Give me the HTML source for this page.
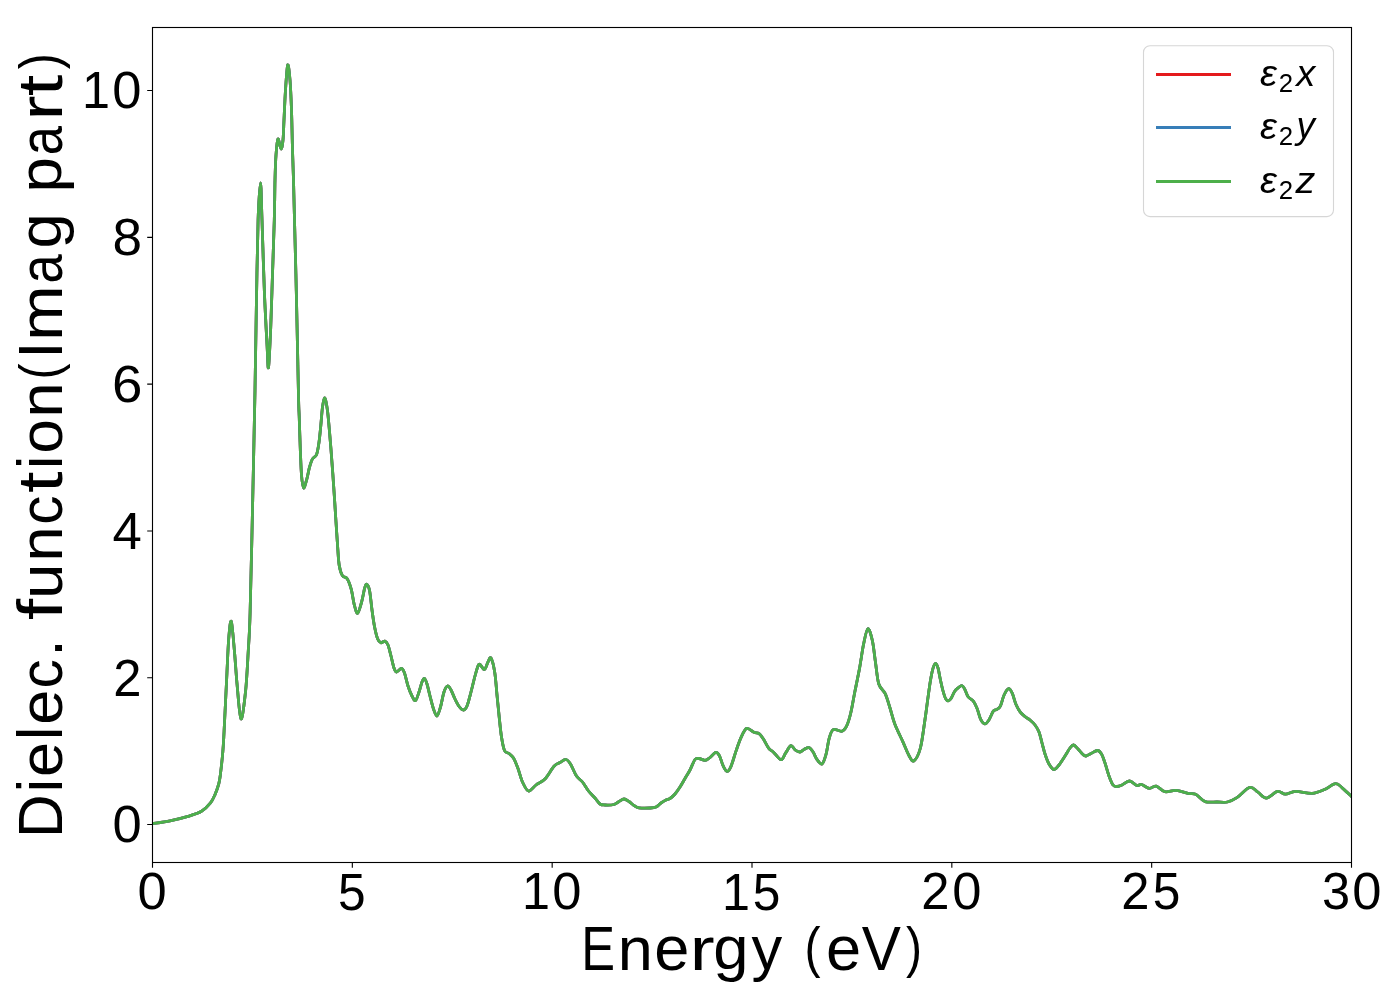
<!DOCTYPE html>
<html><head><meta charset="utf-8"><title>Dielectric function</title>
<style>
html,body{margin:0;padding:0;background:#fff;}
body{width:1400px;height:1000px;overflow:hidden;font-family:"Liberation Sans",sans-serif;}
svg{display:block;}
</style></head><body>
<svg width="1400" height="1000" viewBox="0 0 1400 1000">
<rect width="1400" height="1000" fill="#fff"/>
<defs><clipPath id="ax"><rect x="152.5" y="27.5" width="1199.0" height="835.0"/></clipPath></defs>
<g clip-path="url(#ax)" fill="none" stroke-width="2.7778" stroke-linejoin="round" stroke-linecap="square">
<path d="M152.50,823.60 C155.42,823.13 164.08,822.00 170.00,820.80 C175.92,819.60 182.75,817.98 188.00,816.40 C193.25,814.82 197.75,813.55 201.50,811.30 C205.25,809.05 208.25,805.68 210.50,802.90 C212.75,800.12 213.65,797.67 215.00,794.60 C216.35,791.53 217.73,787.60 218.60,784.50 C219.47,781.40 219.50,781.42 220.20,776.00 C220.90,770.58 222.15,759.50 222.80,752.00 C223.45,744.50 223.45,743.33 224.10,731.00 C224.75,718.67 225.93,693.33 226.70,678.00 C227.47,662.67 227.93,648.42 228.70,639.00 C229.47,629.58 230.33,619.33 231.30,621.50 C232.27,623.67 233.53,641.48 234.50,652.00 C235.47,662.52 236.02,673.43 237.10,684.60 C238.18,695.77 239.58,717.93 241.00,719.00 C242.42,720.07 244.40,702.17 245.60,691.00 C246.80,679.83 247.45,665.00 248.20,652.00 C248.95,639.00 249.37,637.50 250.10,613.00 C250.83,588.50 251.78,542.17 252.60,505.00 C253.42,467.83 254.38,422.50 255.00,390.00 C255.62,357.50 255.78,338.33 256.30,310.00 C256.82,281.67 257.40,241.17 258.10,220.00 C258.80,198.83 259.85,183.00 260.50,183.00 C261.15,183.00 261.35,201.83 262.00,220.00 C262.65,238.17 263.55,271.00 264.40,292.00 C265.25,313.00 266.42,333.42 267.10,346.00 C267.78,358.58 267.90,370.50 268.50,367.50 C269.10,364.50 270.03,343.58 270.70,328.00 C271.37,312.42 271.90,292.00 272.50,274.00 C273.10,256.00 273.88,235.67 274.30,220.00 C274.72,204.33 274.72,190.83 275.00,180.00 C275.28,169.17 275.50,161.83 276.00,155.00 C276.50,148.17 277.17,140.00 278.00,139.00 C278.83,138.00 280.17,148.83 281.00,149.00 C281.83,149.17 282.50,144.83 283.00,140.00 C283.50,135.17 283.58,128.33 284.00,120.00 C284.42,111.67 284.88,99.17 285.50,90.00 C286.12,80.83 286.95,66.67 287.70,65.00 C288.45,63.33 289.37,72.50 290.00,80.00 C290.63,87.50 291.08,98.33 291.50,110.00 C291.92,121.67 292.17,138.33 292.50,150.00 C292.83,161.67 293.17,168.33 293.50,180.00 C293.83,191.67 294.10,204.33 294.50,220.00 C294.90,235.67 295.47,256.00 295.90,274.00 C296.33,292.00 296.65,307.00 297.10,328.00 C297.55,349.00 298.25,385.33 298.60,400.00 C298.95,414.67 298.90,407.33 299.20,416.00 C299.50,424.67 300.00,442.00 300.40,452.00 C300.80,462.00 301.07,470.00 301.60,476.00 C302.13,482.00 302.70,487.60 303.60,488.00 C304.50,488.40 306.03,481.80 307.00,478.40 C307.97,475.00 308.50,470.80 309.40,467.60 C310.30,464.40 311.20,461.40 312.40,459.20 C313.60,457.00 315.50,457.20 316.60,454.40 C317.70,451.60 318.30,447.20 319.00,442.40 C319.70,437.60 320.20,431.60 320.80,425.60 C321.40,419.60 321.90,411.00 322.60,406.40 C323.30,401.80 324.20,397.40 325.00,398.00 C325.80,398.60 326.70,405.00 327.40,410.00 C328.10,415.00 328.60,421.40 329.20,428.00 C329.80,434.60 330.40,442.00 331.00,449.60 C331.60,457.20 332.20,465.20 332.80,473.60 C333.40,482.00 334.07,491.93 334.60,500.00 C335.13,508.07 335.50,514.33 336.00,522.00 C336.50,529.67 337.07,538.80 337.60,546.00 C338.13,553.20 338.40,560.27 339.20,565.20 C340.00,570.13 341.07,573.33 342.40,575.60 C343.73,577.87 345.73,576.53 347.20,578.80 C348.67,581.07 350.00,584.80 351.20,589.20 C352.40,593.60 353.33,601.20 354.40,605.20 C355.47,609.20 356.40,613.73 357.60,613.20 C358.80,612.67 360.40,606.27 361.60,602.00 C362.80,597.73 363.92,590.53 364.80,587.60 C365.68,584.67 366.10,583.87 366.90,584.40 C367.70,584.93 368.75,586.53 369.60,590.80 C370.45,595.07 371.20,604.13 372.00,610.00 C372.80,615.87 373.47,621.20 374.40,626.00 C375.33,630.80 376.53,636.00 377.60,638.80 C378.67,641.60 379.60,642.40 380.80,642.80 C382.00,643.20 383.60,640.83 384.80,641.20 C386.00,641.57 386.97,642.53 388.00,645.00 C389.03,647.47 390.00,652.17 391.00,656.00 C392.00,659.83 393.08,665.33 394.00,668.00 C394.92,670.67 395.25,671.92 396.50,672.00 C397.75,672.08 400.17,668.33 401.50,668.50 C402.83,668.67 403.42,670.08 404.50,673.00 C405.58,675.92 406.75,682.17 408.00,686.00 C409.25,689.83 410.75,693.58 412.00,696.00 C413.25,698.42 414.33,701.17 415.50,700.50 C416.67,699.83 417.92,695.08 419.00,692.00 C420.08,688.92 421.08,684.25 422.00,682.00 C422.92,679.75 423.67,678.17 424.50,678.50 C425.33,678.83 426.08,681.08 427.00,684.00 C427.92,686.92 428.92,691.83 430.00,696.00 C431.08,700.17 432.33,705.67 433.50,709.00 C434.67,712.33 435.83,716.33 437.00,716.00 C438.17,715.67 439.33,711.00 440.50,707.00 C441.67,703.00 442.83,695.50 444.00,692.00 C445.17,688.50 446.33,686.33 447.50,686.00 C448.67,685.67 449.75,687.83 451.00,690.00 C452.25,692.17 453.58,696.17 455.00,699.00 C456.42,701.83 458.08,705.17 459.50,707.00 C460.92,708.83 462.25,710.17 463.50,710.00 C464.75,709.83 465.75,709.00 467.00,706.00 C468.25,703.00 469.67,697.00 471.00,692.00 C472.33,687.00 473.83,680.33 475.00,676.00 C476.17,671.67 477.17,667.92 478.00,666.00 C478.83,664.08 478.92,663.92 480.00,664.50 C481.08,665.08 483.17,669.92 484.50,669.50 C485.83,669.08 486.92,663.92 488.00,662.00 C489.08,660.08 489.88,656.25 491.00,658.00 C492.12,659.75 493.75,666.33 494.75,672.50 C495.75,678.67 496.25,687.50 497.00,695.00 C497.75,702.50 498.50,710.50 499.25,717.50 C500.00,724.50 500.62,731.50 501.50,737.00 C502.38,742.50 503.25,747.75 504.50,750.50 C505.75,753.25 507.50,752.25 509.00,753.50 C510.50,754.75 512.00,755.50 513.50,758.00 C515.00,760.50 516.50,764.50 518.00,768.50 C519.50,772.50 520.75,778.25 522.50,782.00 C524.25,785.75 526.25,790.50 528.50,791.00 C530.75,791.50 533.25,787.00 536.00,785.00 C538.75,783.00 542.00,782.12 545.00,779.00 C548.00,775.88 551.50,769.00 554.00,766.25 C556.50,763.50 558.00,763.62 560.00,762.50 C562.00,761.38 564.25,759.25 566.00,759.50 C567.75,759.75 568.75,761.25 570.50,764.00 C572.25,766.75 574.50,773.00 576.50,776.00 C578.50,779.00 580.50,779.50 582.50,782.00 C584.50,784.50 586.42,788.33 588.50,791.00 C590.58,793.67 593.08,795.83 595.00,798.00 C596.92,800.17 598.33,802.83 600.00,804.00 C601.67,805.17 602.67,804.92 605.00,805.00 C607.33,805.08 611.67,805.08 614.00,804.50 C616.33,803.92 617.33,802.42 619.00,801.50 C620.67,800.58 622.33,799.00 624.00,799.00 C625.67,799.00 627.33,800.42 629.00,801.50 C630.67,802.58 632.33,804.45 634.00,805.50 C635.67,806.55 636.33,807.38 639.00,807.80 C641.67,808.22 647.17,808.13 650.00,808.00 C652.83,807.87 654.17,807.83 656.00,807.00 C657.83,806.17 659.33,804.17 661.00,803.00 C662.67,801.83 664.50,800.75 666.00,800.00 C667.50,799.25 668.50,799.50 670.00,798.50 C671.50,797.50 673.33,795.92 675.00,794.00 C676.67,792.08 678.33,789.58 680.00,787.00 C681.67,784.42 683.33,781.33 685.00,778.50 C686.67,775.67 688.33,773.17 690.00,770.00 C691.67,766.83 693.50,761.42 695.00,759.50 C696.50,757.58 697.33,758.37 699.00,758.50 C700.67,758.63 703.27,760.38 705.00,760.30 C706.73,760.22 707.58,759.32 709.40,758.00 C711.22,756.68 714.18,752.68 715.90,752.40 C717.62,752.12 718.50,754.08 719.70,756.30 C720.90,758.52 721.88,763.20 723.10,765.70 C724.32,768.20 725.70,771.15 727.00,771.30 C728.30,771.45 729.40,769.97 730.90,766.60 C732.40,763.23 734.30,755.97 736.00,751.10 C737.70,746.23 739.32,741.18 741.10,737.40 C742.88,733.62 744.55,729.25 746.70,728.40 C748.85,727.55 751.93,731.43 754.00,732.30 C756.07,733.17 757.53,732.47 759.10,733.60 C760.67,734.73 761.82,736.68 763.40,739.10 C764.98,741.52 766.88,745.88 768.60,748.10 C770.32,750.32 771.63,750.47 773.70,752.40 C775.77,754.33 779.00,759.62 781.00,759.70 C783.00,759.78 784.05,755.25 785.70,752.90 C787.35,750.55 789.33,746.10 790.90,745.60 C792.47,745.10 793.60,748.83 795.10,749.90 C796.60,750.97 798.40,752.08 799.90,752.00 C801.40,751.92 802.60,750.12 804.10,749.40 C805.60,748.68 807.40,747.27 808.90,747.70 C810.40,748.13 811.82,750.13 813.10,752.00 C814.38,753.87 815.12,756.90 816.60,758.90 C818.08,760.90 820.43,764.75 822.00,764.00 C823.57,763.25 824.80,758.67 826.00,754.40 C827.20,750.13 828.00,742.53 829.20,738.40 C830.40,734.27 831.07,730.80 833.20,729.60 C835.33,728.40 839.73,731.87 842.00,731.20 C844.27,730.53 845.33,728.67 846.80,725.60 C848.27,722.53 849.47,718.40 850.80,712.80 C852.13,707.20 853.33,699.47 854.80,692.00 C856.27,684.53 858.13,676.00 859.60,668.00 C861.07,660.00 862.22,650.53 863.60,644.00 C864.98,637.47 866.43,629.33 867.90,628.80 C869.37,628.27 871.12,635.07 872.40,640.80 C873.68,646.53 874.53,656.00 875.60,663.20 C876.67,670.40 877.20,678.93 878.80,684.00 C880.40,689.07 883.33,689.60 885.20,693.60 C887.07,697.60 888.40,702.93 890.00,708.00 C891.60,713.07 892.67,718.40 894.80,724.00 C896.93,729.60 900.40,736.27 902.80,741.60 C905.20,746.93 907.33,752.80 909.20,756.00 C911.07,759.20 912.13,762.13 914.00,760.80 C915.87,759.47 918.58,754.77 920.40,748.00 C922.22,741.23 923.70,728.13 924.90,720.20 C926.10,712.27 926.70,706.85 927.60,700.40 C928.50,693.95 929.47,686.60 930.30,681.50 C931.13,676.40 931.77,672.80 932.60,669.80 C933.43,666.80 934.40,663.80 935.30,663.50 C936.20,663.20 937.18,665.45 938.00,668.00 C938.82,670.55 939.38,675.05 940.20,678.80 C941.02,682.55 942.00,687.20 942.90,690.50 C943.80,693.80 944.70,696.87 945.60,698.60 C946.50,700.33 947.40,700.90 948.30,700.90 C949.20,700.90 949.95,700.18 951.00,698.60 C952.05,697.02 953.40,693.20 954.60,691.40 C955.80,689.60 957.00,688.77 958.20,687.80 C959.40,686.83 960.75,685.45 961.80,685.60 C962.85,685.75 963.45,686.83 964.50,688.70 C965.55,690.57 966.60,694.70 968.10,696.80 C969.60,698.90 972.00,699.35 973.50,701.30 C975.00,703.25 975.90,705.50 977.10,708.50 C978.30,711.50 979.42,716.75 980.70,719.30 C981.98,721.85 983.45,723.65 984.80,723.80 C986.15,723.95 987.38,722.30 988.80,720.20 C990.22,718.10 991.95,713.00 993.30,711.20 C994.65,709.40 995.70,710.30 996.90,709.40 C998.10,708.50 999.30,708.20 1000.50,705.80 C1001.70,703.40 1002.75,697.85 1004.10,695.00 C1005.45,692.15 1007.25,689.00 1008.60,688.70 C1009.95,688.40 1011.00,690.65 1012.20,693.20 C1013.40,695.75 1014.45,700.85 1015.80,704.00 C1017.15,707.15 1018.68,709.93 1020.30,712.10 C1021.92,714.27 1023.88,715.68 1025.50,717.00 C1027.12,718.32 1028.42,718.67 1030.00,720.00 C1031.58,721.33 1033.50,723.00 1035.00,725.00 C1036.50,727.00 1037.83,729.00 1039.00,732.00 C1040.17,735.00 1041.00,739.33 1042.00,743.00 C1043.00,746.67 1043.83,750.50 1045.00,754.00 C1046.17,757.50 1047.50,761.42 1049.00,764.00 C1050.50,766.58 1052.33,769.33 1054.00,769.50 C1055.67,769.67 1057.17,767.25 1059.00,765.00 C1060.83,762.75 1063.17,758.83 1065.00,756.00 C1066.83,753.17 1068.58,749.83 1070.00,748.00 C1071.42,746.17 1072.17,744.83 1073.50,745.00 C1074.83,745.17 1076.42,747.42 1078.00,749.00 C1079.58,750.58 1081.67,753.33 1083.00,754.50 C1084.33,755.67 1084.67,756.17 1086.00,756.00 C1087.33,755.83 1089.08,754.42 1091.00,753.50 C1092.92,752.58 1095.75,750.42 1097.50,750.50 C1099.25,750.58 1100.25,751.92 1101.50,754.00 C1102.75,756.08 1103.75,759.33 1105.00,763.00 C1106.25,766.67 1107.67,772.33 1109.00,776.00 C1110.33,779.67 1111.67,783.25 1113.00,785.00 C1114.33,786.75 1115.50,786.50 1117.00,786.50 C1118.50,786.50 1119.92,785.92 1122.00,785.00 C1124.08,784.08 1127.00,780.92 1129.50,781.00 C1132.00,781.08 1135.00,784.92 1137.00,785.50 C1139.00,786.08 1139.43,784.03 1141.50,784.50 C1143.57,784.97 1146.93,788.03 1149.40,788.30 C1151.87,788.57 1153.72,785.53 1156.30,786.10 C1158.88,786.67 1161.62,790.98 1164.90,791.70 C1168.18,792.42 1172.15,790.12 1176.00,790.40 C1179.85,790.68 1184.72,792.75 1188.00,793.40 C1191.28,794.05 1192.85,792.93 1195.70,794.30 C1198.55,795.67 1201.53,800.32 1205.10,801.60 C1208.67,802.88 1213.38,801.93 1217.10,802.00 C1220.82,802.07 1224.10,802.72 1227.40,802.00 C1230.70,801.28 1233.18,800.13 1236.90,797.70 C1240.62,795.27 1246.20,788.32 1249.70,787.40 C1253.20,786.48 1255.10,790.42 1257.90,792.20 C1260.70,793.98 1263.23,798.23 1266.50,798.10 C1269.77,797.97 1274.35,792.05 1277.50,791.40 C1280.65,790.75 1282.38,794.20 1285.40,794.20 C1288.42,794.20 1291.15,791.53 1295.60,791.40 C1300.05,791.27 1307.27,793.72 1312.10,793.40 C1316.93,793.08 1320.68,791.13 1324.60,789.50 C1328.52,787.87 1332.58,783.80 1335.60,783.60 C1338.62,783.40 1340.05,786.15 1342.70,788.30 C1345.35,790.45 1350.03,795.13 1351.50,796.50" stroke="#e41a1c"/>
<path d="M152.50,823.60 C155.42,823.13 164.08,822.00 170.00,820.80 C175.92,819.60 182.75,817.98 188.00,816.40 C193.25,814.82 197.75,813.55 201.50,811.30 C205.25,809.05 208.25,805.68 210.50,802.90 C212.75,800.12 213.65,797.67 215.00,794.60 C216.35,791.53 217.73,787.60 218.60,784.50 C219.47,781.40 219.50,781.42 220.20,776.00 C220.90,770.58 222.15,759.50 222.80,752.00 C223.45,744.50 223.45,743.33 224.10,731.00 C224.75,718.67 225.93,693.33 226.70,678.00 C227.47,662.67 227.93,648.42 228.70,639.00 C229.47,629.58 230.33,619.33 231.30,621.50 C232.27,623.67 233.53,641.48 234.50,652.00 C235.47,662.52 236.02,673.43 237.10,684.60 C238.18,695.77 239.58,717.93 241.00,719.00 C242.42,720.07 244.40,702.17 245.60,691.00 C246.80,679.83 247.45,665.00 248.20,652.00 C248.95,639.00 249.37,637.50 250.10,613.00 C250.83,588.50 251.78,542.17 252.60,505.00 C253.42,467.83 254.38,422.50 255.00,390.00 C255.62,357.50 255.78,338.33 256.30,310.00 C256.82,281.67 257.40,241.17 258.10,220.00 C258.80,198.83 259.85,183.00 260.50,183.00 C261.15,183.00 261.35,201.83 262.00,220.00 C262.65,238.17 263.55,271.00 264.40,292.00 C265.25,313.00 266.42,333.42 267.10,346.00 C267.78,358.58 267.90,370.50 268.50,367.50 C269.10,364.50 270.03,343.58 270.70,328.00 C271.37,312.42 271.90,292.00 272.50,274.00 C273.10,256.00 273.88,235.67 274.30,220.00 C274.72,204.33 274.72,190.83 275.00,180.00 C275.28,169.17 275.50,161.83 276.00,155.00 C276.50,148.17 277.17,140.00 278.00,139.00 C278.83,138.00 280.17,148.83 281.00,149.00 C281.83,149.17 282.50,144.83 283.00,140.00 C283.50,135.17 283.58,128.33 284.00,120.00 C284.42,111.67 284.88,99.17 285.50,90.00 C286.12,80.83 286.95,66.67 287.70,65.00 C288.45,63.33 289.37,72.50 290.00,80.00 C290.63,87.50 291.08,98.33 291.50,110.00 C291.92,121.67 292.17,138.33 292.50,150.00 C292.83,161.67 293.17,168.33 293.50,180.00 C293.83,191.67 294.10,204.33 294.50,220.00 C294.90,235.67 295.47,256.00 295.90,274.00 C296.33,292.00 296.65,307.00 297.10,328.00 C297.55,349.00 298.25,385.33 298.60,400.00 C298.95,414.67 298.90,407.33 299.20,416.00 C299.50,424.67 300.00,442.00 300.40,452.00 C300.80,462.00 301.07,470.00 301.60,476.00 C302.13,482.00 302.70,487.60 303.60,488.00 C304.50,488.40 306.03,481.80 307.00,478.40 C307.97,475.00 308.50,470.80 309.40,467.60 C310.30,464.40 311.20,461.40 312.40,459.20 C313.60,457.00 315.50,457.20 316.60,454.40 C317.70,451.60 318.30,447.20 319.00,442.40 C319.70,437.60 320.20,431.60 320.80,425.60 C321.40,419.60 321.90,411.00 322.60,406.40 C323.30,401.80 324.20,397.40 325.00,398.00 C325.80,398.60 326.70,405.00 327.40,410.00 C328.10,415.00 328.60,421.40 329.20,428.00 C329.80,434.60 330.40,442.00 331.00,449.60 C331.60,457.20 332.20,465.20 332.80,473.60 C333.40,482.00 334.07,491.93 334.60,500.00 C335.13,508.07 335.50,514.33 336.00,522.00 C336.50,529.67 337.07,538.80 337.60,546.00 C338.13,553.20 338.40,560.27 339.20,565.20 C340.00,570.13 341.07,573.33 342.40,575.60 C343.73,577.87 345.73,576.53 347.20,578.80 C348.67,581.07 350.00,584.80 351.20,589.20 C352.40,593.60 353.33,601.20 354.40,605.20 C355.47,609.20 356.40,613.73 357.60,613.20 C358.80,612.67 360.40,606.27 361.60,602.00 C362.80,597.73 363.92,590.53 364.80,587.60 C365.68,584.67 366.10,583.87 366.90,584.40 C367.70,584.93 368.75,586.53 369.60,590.80 C370.45,595.07 371.20,604.13 372.00,610.00 C372.80,615.87 373.47,621.20 374.40,626.00 C375.33,630.80 376.53,636.00 377.60,638.80 C378.67,641.60 379.60,642.40 380.80,642.80 C382.00,643.20 383.60,640.83 384.80,641.20 C386.00,641.57 386.97,642.53 388.00,645.00 C389.03,647.47 390.00,652.17 391.00,656.00 C392.00,659.83 393.08,665.33 394.00,668.00 C394.92,670.67 395.25,671.92 396.50,672.00 C397.75,672.08 400.17,668.33 401.50,668.50 C402.83,668.67 403.42,670.08 404.50,673.00 C405.58,675.92 406.75,682.17 408.00,686.00 C409.25,689.83 410.75,693.58 412.00,696.00 C413.25,698.42 414.33,701.17 415.50,700.50 C416.67,699.83 417.92,695.08 419.00,692.00 C420.08,688.92 421.08,684.25 422.00,682.00 C422.92,679.75 423.67,678.17 424.50,678.50 C425.33,678.83 426.08,681.08 427.00,684.00 C427.92,686.92 428.92,691.83 430.00,696.00 C431.08,700.17 432.33,705.67 433.50,709.00 C434.67,712.33 435.83,716.33 437.00,716.00 C438.17,715.67 439.33,711.00 440.50,707.00 C441.67,703.00 442.83,695.50 444.00,692.00 C445.17,688.50 446.33,686.33 447.50,686.00 C448.67,685.67 449.75,687.83 451.00,690.00 C452.25,692.17 453.58,696.17 455.00,699.00 C456.42,701.83 458.08,705.17 459.50,707.00 C460.92,708.83 462.25,710.17 463.50,710.00 C464.75,709.83 465.75,709.00 467.00,706.00 C468.25,703.00 469.67,697.00 471.00,692.00 C472.33,687.00 473.83,680.33 475.00,676.00 C476.17,671.67 477.17,667.92 478.00,666.00 C478.83,664.08 478.92,663.92 480.00,664.50 C481.08,665.08 483.17,669.92 484.50,669.50 C485.83,669.08 486.92,663.92 488.00,662.00 C489.08,660.08 489.88,656.25 491.00,658.00 C492.12,659.75 493.75,666.33 494.75,672.50 C495.75,678.67 496.25,687.50 497.00,695.00 C497.75,702.50 498.50,710.50 499.25,717.50 C500.00,724.50 500.62,731.50 501.50,737.00 C502.38,742.50 503.25,747.75 504.50,750.50 C505.75,753.25 507.50,752.25 509.00,753.50 C510.50,754.75 512.00,755.50 513.50,758.00 C515.00,760.50 516.50,764.50 518.00,768.50 C519.50,772.50 520.75,778.25 522.50,782.00 C524.25,785.75 526.25,790.50 528.50,791.00 C530.75,791.50 533.25,787.00 536.00,785.00 C538.75,783.00 542.00,782.12 545.00,779.00 C548.00,775.88 551.50,769.00 554.00,766.25 C556.50,763.50 558.00,763.62 560.00,762.50 C562.00,761.38 564.25,759.25 566.00,759.50 C567.75,759.75 568.75,761.25 570.50,764.00 C572.25,766.75 574.50,773.00 576.50,776.00 C578.50,779.00 580.50,779.50 582.50,782.00 C584.50,784.50 586.42,788.33 588.50,791.00 C590.58,793.67 593.08,795.83 595.00,798.00 C596.92,800.17 598.33,802.83 600.00,804.00 C601.67,805.17 602.67,804.92 605.00,805.00 C607.33,805.08 611.67,805.08 614.00,804.50 C616.33,803.92 617.33,802.42 619.00,801.50 C620.67,800.58 622.33,799.00 624.00,799.00 C625.67,799.00 627.33,800.42 629.00,801.50 C630.67,802.58 632.33,804.45 634.00,805.50 C635.67,806.55 636.33,807.38 639.00,807.80 C641.67,808.22 647.17,808.13 650.00,808.00 C652.83,807.87 654.17,807.83 656.00,807.00 C657.83,806.17 659.33,804.17 661.00,803.00 C662.67,801.83 664.50,800.75 666.00,800.00 C667.50,799.25 668.50,799.50 670.00,798.50 C671.50,797.50 673.33,795.92 675.00,794.00 C676.67,792.08 678.33,789.58 680.00,787.00 C681.67,784.42 683.33,781.33 685.00,778.50 C686.67,775.67 688.33,773.17 690.00,770.00 C691.67,766.83 693.50,761.42 695.00,759.50 C696.50,757.58 697.33,758.37 699.00,758.50 C700.67,758.63 703.27,760.38 705.00,760.30 C706.73,760.22 707.58,759.32 709.40,758.00 C711.22,756.68 714.18,752.68 715.90,752.40 C717.62,752.12 718.50,754.08 719.70,756.30 C720.90,758.52 721.88,763.20 723.10,765.70 C724.32,768.20 725.70,771.15 727.00,771.30 C728.30,771.45 729.40,769.97 730.90,766.60 C732.40,763.23 734.30,755.97 736.00,751.10 C737.70,746.23 739.32,741.18 741.10,737.40 C742.88,733.62 744.55,729.25 746.70,728.40 C748.85,727.55 751.93,731.43 754.00,732.30 C756.07,733.17 757.53,732.47 759.10,733.60 C760.67,734.73 761.82,736.68 763.40,739.10 C764.98,741.52 766.88,745.88 768.60,748.10 C770.32,750.32 771.63,750.47 773.70,752.40 C775.77,754.33 779.00,759.62 781.00,759.70 C783.00,759.78 784.05,755.25 785.70,752.90 C787.35,750.55 789.33,746.10 790.90,745.60 C792.47,745.10 793.60,748.83 795.10,749.90 C796.60,750.97 798.40,752.08 799.90,752.00 C801.40,751.92 802.60,750.12 804.10,749.40 C805.60,748.68 807.40,747.27 808.90,747.70 C810.40,748.13 811.82,750.13 813.10,752.00 C814.38,753.87 815.12,756.90 816.60,758.90 C818.08,760.90 820.43,764.75 822.00,764.00 C823.57,763.25 824.80,758.67 826.00,754.40 C827.20,750.13 828.00,742.53 829.20,738.40 C830.40,734.27 831.07,730.80 833.20,729.60 C835.33,728.40 839.73,731.87 842.00,731.20 C844.27,730.53 845.33,728.67 846.80,725.60 C848.27,722.53 849.47,718.40 850.80,712.80 C852.13,707.20 853.33,699.47 854.80,692.00 C856.27,684.53 858.13,676.00 859.60,668.00 C861.07,660.00 862.22,650.53 863.60,644.00 C864.98,637.47 866.43,629.33 867.90,628.80 C869.37,628.27 871.12,635.07 872.40,640.80 C873.68,646.53 874.53,656.00 875.60,663.20 C876.67,670.40 877.20,678.93 878.80,684.00 C880.40,689.07 883.33,689.60 885.20,693.60 C887.07,697.60 888.40,702.93 890.00,708.00 C891.60,713.07 892.67,718.40 894.80,724.00 C896.93,729.60 900.40,736.27 902.80,741.60 C905.20,746.93 907.33,752.80 909.20,756.00 C911.07,759.20 912.13,762.13 914.00,760.80 C915.87,759.47 918.58,754.77 920.40,748.00 C922.22,741.23 923.70,728.13 924.90,720.20 C926.10,712.27 926.70,706.85 927.60,700.40 C928.50,693.95 929.47,686.60 930.30,681.50 C931.13,676.40 931.77,672.80 932.60,669.80 C933.43,666.80 934.40,663.80 935.30,663.50 C936.20,663.20 937.18,665.45 938.00,668.00 C938.82,670.55 939.38,675.05 940.20,678.80 C941.02,682.55 942.00,687.20 942.90,690.50 C943.80,693.80 944.70,696.87 945.60,698.60 C946.50,700.33 947.40,700.90 948.30,700.90 C949.20,700.90 949.95,700.18 951.00,698.60 C952.05,697.02 953.40,693.20 954.60,691.40 C955.80,689.60 957.00,688.77 958.20,687.80 C959.40,686.83 960.75,685.45 961.80,685.60 C962.85,685.75 963.45,686.83 964.50,688.70 C965.55,690.57 966.60,694.70 968.10,696.80 C969.60,698.90 972.00,699.35 973.50,701.30 C975.00,703.25 975.90,705.50 977.10,708.50 C978.30,711.50 979.42,716.75 980.70,719.30 C981.98,721.85 983.45,723.65 984.80,723.80 C986.15,723.95 987.38,722.30 988.80,720.20 C990.22,718.10 991.95,713.00 993.30,711.20 C994.65,709.40 995.70,710.30 996.90,709.40 C998.10,708.50 999.30,708.20 1000.50,705.80 C1001.70,703.40 1002.75,697.85 1004.10,695.00 C1005.45,692.15 1007.25,689.00 1008.60,688.70 C1009.95,688.40 1011.00,690.65 1012.20,693.20 C1013.40,695.75 1014.45,700.85 1015.80,704.00 C1017.15,707.15 1018.68,709.93 1020.30,712.10 C1021.92,714.27 1023.88,715.68 1025.50,717.00 C1027.12,718.32 1028.42,718.67 1030.00,720.00 C1031.58,721.33 1033.50,723.00 1035.00,725.00 C1036.50,727.00 1037.83,729.00 1039.00,732.00 C1040.17,735.00 1041.00,739.33 1042.00,743.00 C1043.00,746.67 1043.83,750.50 1045.00,754.00 C1046.17,757.50 1047.50,761.42 1049.00,764.00 C1050.50,766.58 1052.33,769.33 1054.00,769.50 C1055.67,769.67 1057.17,767.25 1059.00,765.00 C1060.83,762.75 1063.17,758.83 1065.00,756.00 C1066.83,753.17 1068.58,749.83 1070.00,748.00 C1071.42,746.17 1072.17,744.83 1073.50,745.00 C1074.83,745.17 1076.42,747.42 1078.00,749.00 C1079.58,750.58 1081.67,753.33 1083.00,754.50 C1084.33,755.67 1084.67,756.17 1086.00,756.00 C1087.33,755.83 1089.08,754.42 1091.00,753.50 C1092.92,752.58 1095.75,750.42 1097.50,750.50 C1099.25,750.58 1100.25,751.92 1101.50,754.00 C1102.75,756.08 1103.75,759.33 1105.00,763.00 C1106.25,766.67 1107.67,772.33 1109.00,776.00 C1110.33,779.67 1111.67,783.25 1113.00,785.00 C1114.33,786.75 1115.50,786.50 1117.00,786.50 C1118.50,786.50 1119.92,785.92 1122.00,785.00 C1124.08,784.08 1127.00,780.92 1129.50,781.00 C1132.00,781.08 1135.00,784.92 1137.00,785.50 C1139.00,786.08 1139.43,784.03 1141.50,784.50 C1143.57,784.97 1146.93,788.03 1149.40,788.30 C1151.87,788.57 1153.72,785.53 1156.30,786.10 C1158.88,786.67 1161.62,790.98 1164.90,791.70 C1168.18,792.42 1172.15,790.12 1176.00,790.40 C1179.85,790.68 1184.72,792.75 1188.00,793.40 C1191.28,794.05 1192.85,792.93 1195.70,794.30 C1198.55,795.67 1201.53,800.32 1205.10,801.60 C1208.67,802.88 1213.38,801.93 1217.10,802.00 C1220.82,802.07 1224.10,802.72 1227.40,802.00 C1230.70,801.28 1233.18,800.13 1236.90,797.70 C1240.62,795.27 1246.20,788.32 1249.70,787.40 C1253.20,786.48 1255.10,790.42 1257.90,792.20 C1260.70,793.98 1263.23,798.23 1266.50,798.10 C1269.77,797.97 1274.35,792.05 1277.50,791.40 C1280.65,790.75 1282.38,794.20 1285.40,794.20 C1288.42,794.20 1291.15,791.53 1295.60,791.40 C1300.05,791.27 1307.27,793.72 1312.10,793.40 C1316.93,793.08 1320.68,791.13 1324.60,789.50 C1328.52,787.87 1332.58,783.80 1335.60,783.60 C1338.62,783.40 1340.05,786.15 1342.70,788.30 C1345.35,790.45 1350.03,795.13 1351.50,796.50" stroke="#377eb8"/>
<path d="M152.50,823.60 C155.42,823.13 164.08,822.00 170.00,820.80 C175.92,819.60 182.75,817.98 188.00,816.40 C193.25,814.82 197.75,813.55 201.50,811.30 C205.25,809.05 208.25,805.68 210.50,802.90 C212.75,800.12 213.65,797.67 215.00,794.60 C216.35,791.53 217.73,787.60 218.60,784.50 C219.47,781.40 219.50,781.42 220.20,776.00 C220.90,770.58 222.15,759.50 222.80,752.00 C223.45,744.50 223.45,743.33 224.10,731.00 C224.75,718.67 225.93,693.33 226.70,678.00 C227.47,662.67 227.93,648.42 228.70,639.00 C229.47,629.58 230.33,619.33 231.30,621.50 C232.27,623.67 233.53,641.48 234.50,652.00 C235.47,662.52 236.02,673.43 237.10,684.60 C238.18,695.77 239.58,717.93 241.00,719.00 C242.42,720.07 244.40,702.17 245.60,691.00 C246.80,679.83 247.45,665.00 248.20,652.00 C248.95,639.00 249.37,637.50 250.10,613.00 C250.83,588.50 251.78,542.17 252.60,505.00 C253.42,467.83 254.38,422.50 255.00,390.00 C255.62,357.50 255.78,338.33 256.30,310.00 C256.82,281.67 257.40,241.17 258.10,220.00 C258.80,198.83 259.85,183.00 260.50,183.00 C261.15,183.00 261.35,201.83 262.00,220.00 C262.65,238.17 263.55,271.00 264.40,292.00 C265.25,313.00 266.42,333.42 267.10,346.00 C267.78,358.58 267.90,370.50 268.50,367.50 C269.10,364.50 270.03,343.58 270.70,328.00 C271.37,312.42 271.90,292.00 272.50,274.00 C273.10,256.00 273.88,235.67 274.30,220.00 C274.72,204.33 274.72,190.83 275.00,180.00 C275.28,169.17 275.50,161.83 276.00,155.00 C276.50,148.17 277.17,140.00 278.00,139.00 C278.83,138.00 280.17,148.83 281.00,149.00 C281.83,149.17 282.50,144.83 283.00,140.00 C283.50,135.17 283.58,128.33 284.00,120.00 C284.42,111.67 284.88,99.17 285.50,90.00 C286.12,80.83 286.95,66.67 287.70,65.00 C288.45,63.33 289.37,72.50 290.00,80.00 C290.63,87.50 291.08,98.33 291.50,110.00 C291.92,121.67 292.17,138.33 292.50,150.00 C292.83,161.67 293.17,168.33 293.50,180.00 C293.83,191.67 294.10,204.33 294.50,220.00 C294.90,235.67 295.47,256.00 295.90,274.00 C296.33,292.00 296.65,307.00 297.10,328.00 C297.55,349.00 298.25,385.33 298.60,400.00 C298.95,414.67 298.90,407.33 299.20,416.00 C299.50,424.67 300.00,442.00 300.40,452.00 C300.80,462.00 301.07,470.00 301.60,476.00 C302.13,482.00 302.70,487.60 303.60,488.00 C304.50,488.40 306.03,481.80 307.00,478.40 C307.97,475.00 308.50,470.80 309.40,467.60 C310.30,464.40 311.20,461.40 312.40,459.20 C313.60,457.00 315.50,457.20 316.60,454.40 C317.70,451.60 318.30,447.20 319.00,442.40 C319.70,437.60 320.20,431.60 320.80,425.60 C321.40,419.60 321.90,411.00 322.60,406.40 C323.30,401.80 324.20,397.40 325.00,398.00 C325.80,398.60 326.70,405.00 327.40,410.00 C328.10,415.00 328.60,421.40 329.20,428.00 C329.80,434.60 330.40,442.00 331.00,449.60 C331.60,457.20 332.20,465.20 332.80,473.60 C333.40,482.00 334.07,491.93 334.60,500.00 C335.13,508.07 335.50,514.33 336.00,522.00 C336.50,529.67 337.07,538.80 337.60,546.00 C338.13,553.20 338.40,560.27 339.20,565.20 C340.00,570.13 341.07,573.33 342.40,575.60 C343.73,577.87 345.73,576.53 347.20,578.80 C348.67,581.07 350.00,584.80 351.20,589.20 C352.40,593.60 353.33,601.20 354.40,605.20 C355.47,609.20 356.40,613.73 357.60,613.20 C358.80,612.67 360.40,606.27 361.60,602.00 C362.80,597.73 363.92,590.53 364.80,587.60 C365.68,584.67 366.10,583.87 366.90,584.40 C367.70,584.93 368.75,586.53 369.60,590.80 C370.45,595.07 371.20,604.13 372.00,610.00 C372.80,615.87 373.47,621.20 374.40,626.00 C375.33,630.80 376.53,636.00 377.60,638.80 C378.67,641.60 379.60,642.40 380.80,642.80 C382.00,643.20 383.60,640.83 384.80,641.20 C386.00,641.57 386.97,642.53 388.00,645.00 C389.03,647.47 390.00,652.17 391.00,656.00 C392.00,659.83 393.08,665.33 394.00,668.00 C394.92,670.67 395.25,671.92 396.50,672.00 C397.75,672.08 400.17,668.33 401.50,668.50 C402.83,668.67 403.42,670.08 404.50,673.00 C405.58,675.92 406.75,682.17 408.00,686.00 C409.25,689.83 410.75,693.58 412.00,696.00 C413.25,698.42 414.33,701.17 415.50,700.50 C416.67,699.83 417.92,695.08 419.00,692.00 C420.08,688.92 421.08,684.25 422.00,682.00 C422.92,679.75 423.67,678.17 424.50,678.50 C425.33,678.83 426.08,681.08 427.00,684.00 C427.92,686.92 428.92,691.83 430.00,696.00 C431.08,700.17 432.33,705.67 433.50,709.00 C434.67,712.33 435.83,716.33 437.00,716.00 C438.17,715.67 439.33,711.00 440.50,707.00 C441.67,703.00 442.83,695.50 444.00,692.00 C445.17,688.50 446.33,686.33 447.50,686.00 C448.67,685.67 449.75,687.83 451.00,690.00 C452.25,692.17 453.58,696.17 455.00,699.00 C456.42,701.83 458.08,705.17 459.50,707.00 C460.92,708.83 462.25,710.17 463.50,710.00 C464.75,709.83 465.75,709.00 467.00,706.00 C468.25,703.00 469.67,697.00 471.00,692.00 C472.33,687.00 473.83,680.33 475.00,676.00 C476.17,671.67 477.17,667.92 478.00,666.00 C478.83,664.08 478.92,663.92 480.00,664.50 C481.08,665.08 483.17,669.92 484.50,669.50 C485.83,669.08 486.92,663.92 488.00,662.00 C489.08,660.08 489.88,656.25 491.00,658.00 C492.12,659.75 493.75,666.33 494.75,672.50 C495.75,678.67 496.25,687.50 497.00,695.00 C497.75,702.50 498.50,710.50 499.25,717.50 C500.00,724.50 500.62,731.50 501.50,737.00 C502.38,742.50 503.25,747.75 504.50,750.50 C505.75,753.25 507.50,752.25 509.00,753.50 C510.50,754.75 512.00,755.50 513.50,758.00 C515.00,760.50 516.50,764.50 518.00,768.50 C519.50,772.50 520.75,778.25 522.50,782.00 C524.25,785.75 526.25,790.50 528.50,791.00 C530.75,791.50 533.25,787.00 536.00,785.00 C538.75,783.00 542.00,782.12 545.00,779.00 C548.00,775.88 551.50,769.00 554.00,766.25 C556.50,763.50 558.00,763.62 560.00,762.50 C562.00,761.38 564.25,759.25 566.00,759.50 C567.75,759.75 568.75,761.25 570.50,764.00 C572.25,766.75 574.50,773.00 576.50,776.00 C578.50,779.00 580.50,779.50 582.50,782.00 C584.50,784.50 586.42,788.33 588.50,791.00 C590.58,793.67 593.08,795.83 595.00,798.00 C596.92,800.17 598.33,802.83 600.00,804.00 C601.67,805.17 602.67,804.92 605.00,805.00 C607.33,805.08 611.67,805.08 614.00,804.50 C616.33,803.92 617.33,802.42 619.00,801.50 C620.67,800.58 622.33,799.00 624.00,799.00 C625.67,799.00 627.33,800.42 629.00,801.50 C630.67,802.58 632.33,804.45 634.00,805.50 C635.67,806.55 636.33,807.38 639.00,807.80 C641.67,808.22 647.17,808.13 650.00,808.00 C652.83,807.87 654.17,807.83 656.00,807.00 C657.83,806.17 659.33,804.17 661.00,803.00 C662.67,801.83 664.50,800.75 666.00,800.00 C667.50,799.25 668.50,799.50 670.00,798.50 C671.50,797.50 673.33,795.92 675.00,794.00 C676.67,792.08 678.33,789.58 680.00,787.00 C681.67,784.42 683.33,781.33 685.00,778.50 C686.67,775.67 688.33,773.17 690.00,770.00 C691.67,766.83 693.50,761.42 695.00,759.50 C696.50,757.58 697.33,758.37 699.00,758.50 C700.67,758.63 703.27,760.38 705.00,760.30 C706.73,760.22 707.58,759.32 709.40,758.00 C711.22,756.68 714.18,752.68 715.90,752.40 C717.62,752.12 718.50,754.08 719.70,756.30 C720.90,758.52 721.88,763.20 723.10,765.70 C724.32,768.20 725.70,771.15 727.00,771.30 C728.30,771.45 729.40,769.97 730.90,766.60 C732.40,763.23 734.30,755.97 736.00,751.10 C737.70,746.23 739.32,741.18 741.10,737.40 C742.88,733.62 744.55,729.25 746.70,728.40 C748.85,727.55 751.93,731.43 754.00,732.30 C756.07,733.17 757.53,732.47 759.10,733.60 C760.67,734.73 761.82,736.68 763.40,739.10 C764.98,741.52 766.88,745.88 768.60,748.10 C770.32,750.32 771.63,750.47 773.70,752.40 C775.77,754.33 779.00,759.62 781.00,759.70 C783.00,759.78 784.05,755.25 785.70,752.90 C787.35,750.55 789.33,746.10 790.90,745.60 C792.47,745.10 793.60,748.83 795.10,749.90 C796.60,750.97 798.40,752.08 799.90,752.00 C801.40,751.92 802.60,750.12 804.10,749.40 C805.60,748.68 807.40,747.27 808.90,747.70 C810.40,748.13 811.82,750.13 813.10,752.00 C814.38,753.87 815.12,756.90 816.60,758.90 C818.08,760.90 820.43,764.75 822.00,764.00 C823.57,763.25 824.80,758.67 826.00,754.40 C827.20,750.13 828.00,742.53 829.20,738.40 C830.40,734.27 831.07,730.80 833.20,729.60 C835.33,728.40 839.73,731.87 842.00,731.20 C844.27,730.53 845.33,728.67 846.80,725.60 C848.27,722.53 849.47,718.40 850.80,712.80 C852.13,707.20 853.33,699.47 854.80,692.00 C856.27,684.53 858.13,676.00 859.60,668.00 C861.07,660.00 862.22,650.53 863.60,644.00 C864.98,637.47 866.43,629.33 867.90,628.80 C869.37,628.27 871.12,635.07 872.40,640.80 C873.68,646.53 874.53,656.00 875.60,663.20 C876.67,670.40 877.20,678.93 878.80,684.00 C880.40,689.07 883.33,689.60 885.20,693.60 C887.07,697.60 888.40,702.93 890.00,708.00 C891.60,713.07 892.67,718.40 894.80,724.00 C896.93,729.60 900.40,736.27 902.80,741.60 C905.20,746.93 907.33,752.80 909.20,756.00 C911.07,759.20 912.13,762.13 914.00,760.80 C915.87,759.47 918.58,754.77 920.40,748.00 C922.22,741.23 923.70,728.13 924.90,720.20 C926.10,712.27 926.70,706.85 927.60,700.40 C928.50,693.95 929.47,686.60 930.30,681.50 C931.13,676.40 931.77,672.80 932.60,669.80 C933.43,666.80 934.40,663.80 935.30,663.50 C936.20,663.20 937.18,665.45 938.00,668.00 C938.82,670.55 939.38,675.05 940.20,678.80 C941.02,682.55 942.00,687.20 942.90,690.50 C943.80,693.80 944.70,696.87 945.60,698.60 C946.50,700.33 947.40,700.90 948.30,700.90 C949.20,700.90 949.95,700.18 951.00,698.60 C952.05,697.02 953.40,693.20 954.60,691.40 C955.80,689.60 957.00,688.77 958.20,687.80 C959.40,686.83 960.75,685.45 961.80,685.60 C962.85,685.75 963.45,686.83 964.50,688.70 C965.55,690.57 966.60,694.70 968.10,696.80 C969.60,698.90 972.00,699.35 973.50,701.30 C975.00,703.25 975.90,705.50 977.10,708.50 C978.30,711.50 979.42,716.75 980.70,719.30 C981.98,721.85 983.45,723.65 984.80,723.80 C986.15,723.95 987.38,722.30 988.80,720.20 C990.22,718.10 991.95,713.00 993.30,711.20 C994.65,709.40 995.70,710.30 996.90,709.40 C998.10,708.50 999.30,708.20 1000.50,705.80 C1001.70,703.40 1002.75,697.85 1004.10,695.00 C1005.45,692.15 1007.25,689.00 1008.60,688.70 C1009.95,688.40 1011.00,690.65 1012.20,693.20 C1013.40,695.75 1014.45,700.85 1015.80,704.00 C1017.15,707.15 1018.68,709.93 1020.30,712.10 C1021.92,714.27 1023.88,715.68 1025.50,717.00 C1027.12,718.32 1028.42,718.67 1030.00,720.00 C1031.58,721.33 1033.50,723.00 1035.00,725.00 C1036.50,727.00 1037.83,729.00 1039.00,732.00 C1040.17,735.00 1041.00,739.33 1042.00,743.00 C1043.00,746.67 1043.83,750.50 1045.00,754.00 C1046.17,757.50 1047.50,761.42 1049.00,764.00 C1050.50,766.58 1052.33,769.33 1054.00,769.50 C1055.67,769.67 1057.17,767.25 1059.00,765.00 C1060.83,762.75 1063.17,758.83 1065.00,756.00 C1066.83,753.17 1068.58,749.83 1070.00,748.00 C1071.42,746.17 1072.17,744.83 1073.50,745.00 C1074.83,745.17 1076.42,747.42 1078.00,749.00 C1079.58,750.58 1081.67,753.33 1083.00,754.50 C1084.33,755.67 1084.67,756.17 1086.00,756.00 C1087.33,755.83 1089.08,754.42 1091.00,753.50 C1092.92,752.58 1095.75,750.42 1097.50,750.50 C1099.25,750.58 1100.25,751.92 1101.50,754.00 C1102.75,756.08 1103.75,759.33 1105.00,763.00 C1106.25,766.67 1107.67,772.33 1109.00,776.00 C1110.33,779.67 1111.67,783.25 1113.00,785.00 C1114.33,786.75 1115.50,786.50 1117.00,786.50 C1118.50,786.50 1119.92,785.92 1122.00,785.00 C1124.08,784.08 1127.00,780.92 1129.50,781.00 C1132.00,781.08 1135.00,784.92 1137.00,785.50 C1139.00,786.08 1139.43,784.03 1141.50,784.50 C1143.57,784.97 1146.93,788.03 1149.40,788.30 C1151.87,788.57 1153.72,785.53 1156.30,786.10 C1158.88,786.67 1161.62,790.98 1164.90,791.70 C1168.18,792.42 1172.15,790.12 1176.00,790.40 C1179.85,790.68 1184.72,792.75 1188.00,793.40 C1191.28,794.05 1192.85,792.93 1195.70,794.30 C1198.55,795.67 1201.53,800.32 1205.10,801.60 C1208.67,802.88 1213.38,801.93 1217.10,802.00 C1220.82,802.07 1224.10,802.72 1227.40,802.00 C1230.70,801.28 1233.18,800.13 1236.90,797.70 C1240.62,795.27 1246.20,788.32 1249.70,787.40 C1253.20,786.48 1255.10,790.42 1257.90,792.20 C1260.70,793.98 1263.23,798.23 1266.50,798.10 C1269.77,797.97 1274.35,792.05 1277.50,791.40 C1280.65,790.75 1282.38,794.20 1285.40,794.20 C1288.42,794.20 1291.15,791.53 1295.60,791.40 C1300.05,791.27 1307.27,793.72 1312.10,793.40 C1316.93,793.08 1320.68,791.13 1324.60,789.50 C1328.52,787.87 1332.58,783.80 1335.60,783.60 C1338.62,783.40 1340.05,786.15 1342.70,788.30 C1345.35,790.45 1350.03,795.13 1351.50,796.50" stroke="#4daf4a"/>
</g>
<rect x="152.5" y="27.5" width="1199.0" height="835.0" fill="none" stroke="#000" stroke-width="1.1111" stroke-linejoin="miter"/>
<path d="M152.50,862.5V867.80 M352.33,862.5V867.80 M552.17,862.5V867.80 M752.00,862.5V867.80 M951.83,862.5V867.80 M1151.67,862.5V867.80 M1351.50,862.5V867.80 M152.5,824.55H147.20 M152.5,677.75H147.20 M152.5,530.95H147.20 M152.5,384.15H147.20 M152.5,237.35H147.20 M152.5,90.55H147.20" stroke="#000" stroke-width="1.1111" fill="none"/>
<g font-family="Liberation Sans, sans-serif" font-size="100" fill="#000" style="filter:grayscale(1)">
<text transform="translate(137.51,909.08) scale(0.5252,0.5221)">0</text>
<text transform="translate(338.12,910.08) scale(0.4964,0.5229)">5</text>
<text transform="translate(521.90,909.10) scale(0.5031,0.5233)">1</text><text transform="translate(552.26,909.08) scale(0.5252,0.5223)">0</text>
<text transform="translate(721.90,910.10) scale(0.5031,0.5233)">1</text><text transform="translate(752.87,910.07) scale(0.4964,0.5228)">5</text>
<text transform="translate(921.37,909.10) scale(0.5077,0.5224)">2</text><text transform="translate(952.26,909.08) scale(0.5252,0.5223)">0</text>
<text transform="translate(1121.37,909.10) scale(0.5077,0.5224)">2</text><text transform="translate(1152.87,909.07) scale(0.4964,0.5228)">5</text>
<text transform="translate(1322.12,909.08) scale(0.5058,0.5223)">3</text><text transform="translate(1352.26,909.08) scale(0.5252,0.5223)">0</text>
<text transform="translate(112.51,842.08) scale(0.5252,0.5221)">0</text>
<text transform="translate(113.37,696.10) scale(0.5077,0.5224)">2</text>
<text transform="translate(112.53,549.10) scale(0.5272,0.5233)">4</text>
<text transform="translate(112.03,402.08) scale(0.5465,0.5222)">6</text>
<text transform="translate(112.39,255.07) scale(0.5317,0.5219)">8</text>
<text transform="translate(81.90,108.10) scale(0.5031,0.5233)">1</text><text transform="translate(112.26,108.08) scale(0.5252,0.5223)">0</text>
<text transform="translate(581.30,970.00) scale(0.5063,0.6250)">E</text><text transform="translate(617.64,970.00) scale(0.6299,0.6130)">n</text><text transform="translate(654.15,970.39) scale(0.6312,0.6202)">e</text><text transform="translate(689.86,970.00) scale(0.7478,0.6128)">r</text><text transform="translate(713.18,969.31) scale(0.6334,0.6107)">g</text><text transform="translate(751.41,969.45) scale(0.6140,0.6048)">y</text><text transform="translate(804.60,965.83) scale(0.4820,0.5635)">(</text><text transform="translate(825.91,970.39) scale(0.6311,0.6203)">e</text><text transform="translate(861.70,970.00) scale(0.5867,0.6250)">V</text><text transform="translate(905.90,965.83) scale(0.4820,0.5635)">)</text>
<text transform="translate(61.99,838.00) rotate(-90) scale(0.6032,0.6248)">D</text><text transform="translate(61.99,792.29) rotate(-90) scale(0.5966,0.6209)">i</text><text transform="translate(62.37,776.97) rotate(-90) scale(0.6309,0.6198)">e</text><text transform="translate(61.99,740.06) rotate(-90) scale(0.5961,0.6209)">l</text><text transform="translate(62.37,724.72) rotate(-90) scale(0.6309,0.6200)">e</text><text transform="translate(62.38,688.52) rotate(-90) scale(0.5850,0.6200)">c</text><text transform="translate(61.99,656.67) rotate(-90) scale(0.6293,0.6535)">.</text><text transform="translate(61.98,619.88) rotate(-90) scale(0.7657,0.6215)">f</text><text transform="translate(62.38,598.64) rotate(-90) scale(0.6296,0.6128)">u</text><text transform="translate(61.99,561.48) rotate(-90) scale(0.6295,0.6125)">n</text><text transform="translate(62.37,524.77) rotate(-90) scale(0.5851,0.6199)">c</text><text transform="translate(61.50,492.97) rotate(-90) scale(0.7780,0.6341)">t</text><text transform="translate(61.99,469.03) rotate(-90) scale(0.5961,0.6209)">i</text><text transform="translate(62.38,453.61) rotate(-90) scale(0.6184,0.6200)">o</text><text transform="translate(61.99,417.48) rotate(-90) scale(0.6295,0.6125)">n</text><text transform="translate(57.83,379.53) rotate(-90) scale(0.4834,0.5634)">(</text><text transform="translate(61.99,358.73) rotate(-90) scale(0.6156,0.6248)">I</text><text transform="translate(61.99,340.70) rotate(-90) scale(0.6635,0.6128)">m</text><text transform="translate(62.38,283.50) rotate(-90) scale(0.5250,0.6199)">a</text><text transform="translate(61.31,248.44) rotate(-90) scale(0.6332,0.6106)">g</text><text transform="translate(61.33,192.40) rotate(-90) scale(0.6359,0.6099)">p</text><text transform="translate(62.37,155.13) rotate(-90) scale(0.5250,0.6196)">a</text><text transform="translate(61.99,120.38) rotate(-90) scale(0.7471,0.6128)">r</text><text transform="translate(61.50,96.22) rotate(-90) scale(0.7780,0.6341)">t</text><text transform="translate(57.83,69.15) rotate(-90) scale(0.4838,0.5634)">)</text>
</g>
<rect x="1143.5" y="45.7" width="190" height="170.9" rx="6.5" ry="6.5" fill="#fff" fill-opacity="0.8" stroke="#d6d6d6" stroke-width="1.1111"/>
<path d="M1157.4,74.5H1229.6" stroke="#e41a1c" stroke-width="2.7778" stroke-linecap="square"/>
<path d="M1157.4,127.5H1229.6" stroke="#377eb8" stroke-width="2.7778" stroke-linecap="square"/>
<path d="M1157.4,181.5H1229.6" stroke="#4daf4a" stroke-width="2.7778" stroke-linecap="square"/>
<g font-family="Liberation Sans, sans-serif" font-size="100" fill="#000" style="filter:grayscale(1)">
<text transform="translate(1259.99,86.11) scale(0.3839,0.3737)" font-style="italic">ε</text>
<text transform="translate(1278.78,92.00) scale(0.2580,0.2575)">2</text>
<text transform="translate(1296.25,86.00) scale(0.3815,0.3786)" font-style="italic">x</text>
<text transform="translate(1259.99,139.11) scale(0.3839,0.3737)" font-style="italic">ε</text>
<text transform="translate(1278.78,145.00) scale(0.2580,0.2575)">2</text>
<text transform="translate(1296.47,138.39) scale(0.3673,0.3669)" font-style="italic">y</text>
<text transform="translate(1259.99,193.11) scale(0.3839,0.3737)" font-style="italic">ε</text>
<text transform="translate(1278.78,199.00) scale(0.2580,0.2575)">2</text>
<text transform="translate(1295.41,193.00) scale(0.3970,0.3786)" font-style="italic">z</text>
</g>
</svg>
</body></html>
